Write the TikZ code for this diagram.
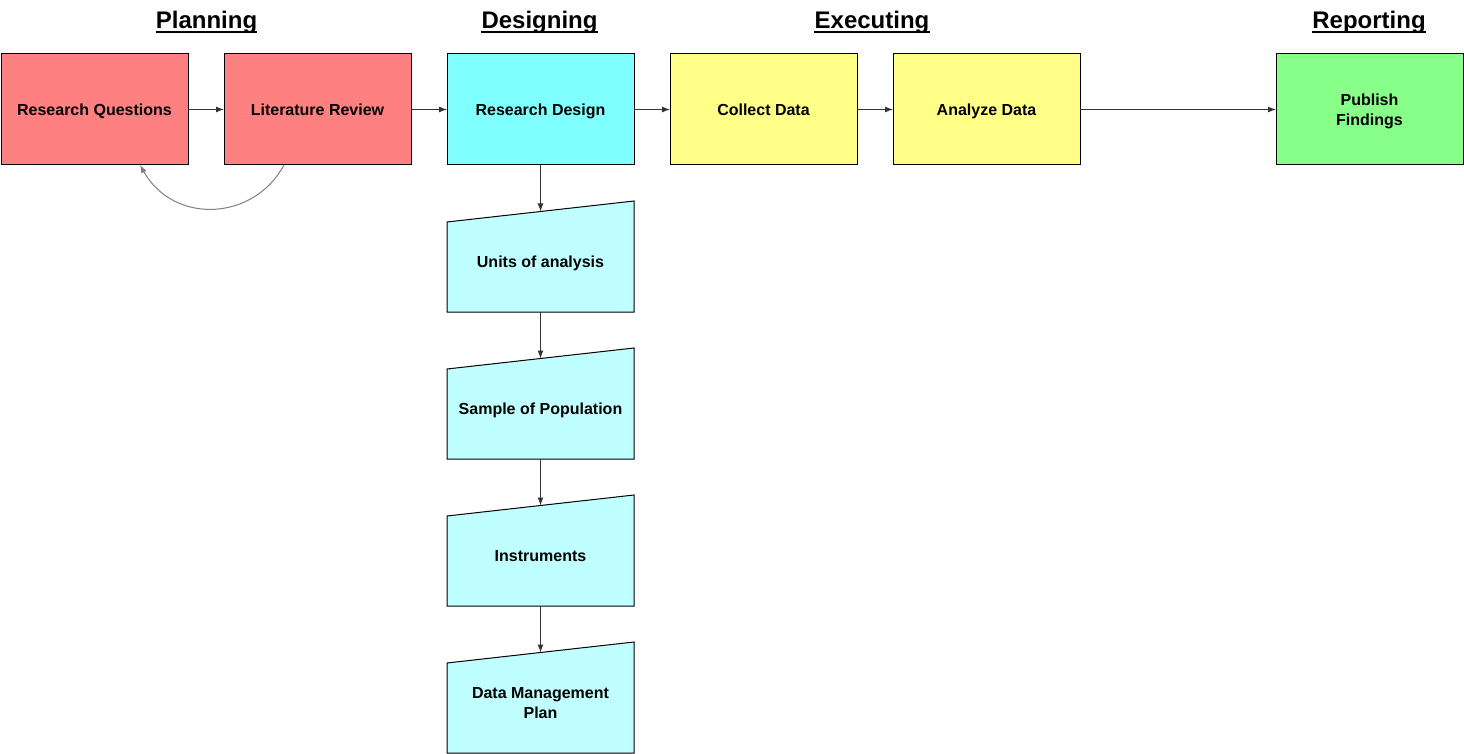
\documentclass[tikz,border=0pt]{standalone}
\usepackage{fontspec}
\setmainfont{Liberation Sans}
\usepackage{xcolor}
\usetikzlibrary{positioning, arrows.meta, backgrounds}

\definecolor{planred}{HTML}{FF8080}
\definecolor{designcyan}{HTML}{80FFFF}
\definecolor{subcyan}{HTML}{C0FFFF}
\definecolor{execyellow}{HTML}{FFFF88}
\definecolor{reportgreen}{HTML}{88FF88}
\definecolor{linegray}{HTML}{333333}

\begin{document}
\begin{tikzpicture}[
    x=1pt, y=-1pt,
    node distance=46.5pt and 36pt,
    phase/.style={rectangle, draw=black, line width=1pt, outer sep=0pt, minimum width=187pt, minimum height=111pt, align=center, text depth=0pt, font=\fontsize{16}{20}\selectfont\bfseries},
    manual/.style={rectangle, outer sep=0pt, minimum width=187pt, minimum height=100.5pt, align=center, text depth=0pt, font=\fontsize{16}{20}\selectfont\bfseries},
    manualshape/.style={draw=black, fill=subcyan, line width=1pt},
    header/.style={inner sep=0pt, anchor=base, font=\fontsize{24}{28}\selectfont\bfseries},
    hline/.style={line width=2pt},
    flow/.style={-{Latex[length=8pt,width=6pt]}, draw=linegray, line width=1pt},
    back/.style={-{Latex[length=8pt,width=6pt]}, draw=gray, line width=1pt}
]
\useasboundingbox (0,0) rectangle (1464,754);

\node[header] (hplan) at (206.5,29) {Planning};
\node[header] (hdesign) at (539.5,29) {Designing};
\node[header] (hexec) at (872,29) {Executing};
\node[header] (hreport) at (1369,29) {Reporting};
\foreach \h in {hplan,hdesign,hexec,hreport}
  \draw[hline] ([yshift=-3pt]\h.base west) -- ([yshift=-3pt]\h.base east);

\node[phase, fill=planred] (rq) at (94.5,109.5) {Research Questions};
\node[phase, fill=planred, right=of rq] (lr) {Literature Review};
\node[phase, fill=designcyan, right=of lr] (rd) {Research Design};
\node[phase, fill=execyellow, right=of rd] (cd) {Collect Data};
\node[phase, fill=execyellow, right=of cd] (ad) {Analyze Data};
\node[phase, fill=reportgreen, right=196pt of ad] (pf) {Publish\\Findings};

\node[manual, below=of rd] (units) {Units of analysis};
\node[manual, below=of units] (sample) {Sample of Population};
\node[manual, below=of sample] (instr) {Instruments};
\node[manual, below=of instr] (dmp) {Data Management\\Plan};

\begin{scope}[on background layer]
\foreach \n in {units,sample,instr,dmp}
  \draw[manualshape] (\n.south west) -- (\n.south east) -- ([yshift=10.5pt]\n.north east) -- ([yshift=-10.5pt]\n.north west) -- cycle;
\end{scope}

\draw[flow] (rq) -- (lr);
\draw[flow] (lr) -- (rd);
\draw[flow] (rd) -- (cd);
\draw[flow] (cd) -- (ad);
\draw[flow] (ad) -- (pf);
\draw[flow] (rd) -- (units);
\draw[flow] (units) -- (sample);
\draw[flow] (sample) -- (instr);
\draw[flow] (instr) -- (dmp);
\draw[back] ([xshift=60pt]lr.south west) .. controls +(-30,56) and +(34,60) .. ([xshift=45.5pt]rq.south);
\end{tikzpicture}
\end{document}
